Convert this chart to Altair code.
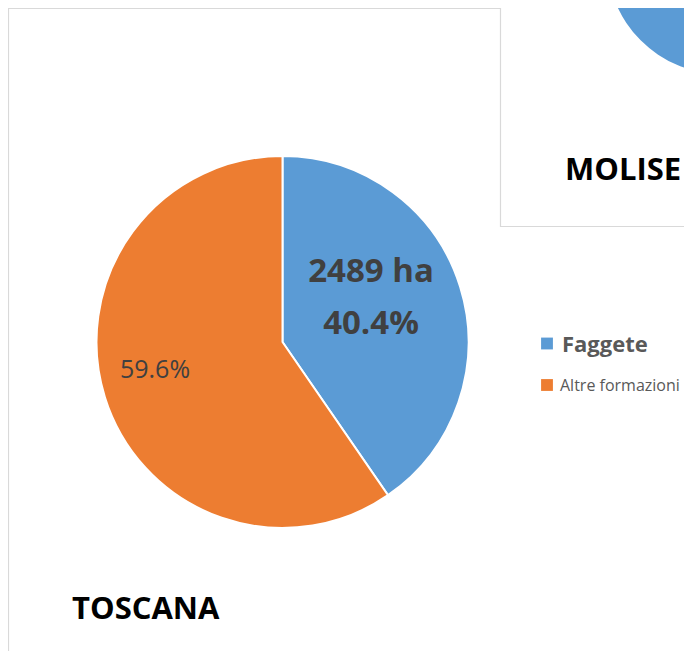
import altair as alt
import pandas as pd

categories = ["Faggete", "Altre formazioni"]
percentages = [40.4, 59.6]
hectares = [2489, None]
colors = ["#5B9BD5", "#ED7D31"]
region_main = "TOSCANA"
region_other = "MOLISE"
molise_values = [100.0]

df = pd.DataFrame({
    "category": categories,
    "value": percentages,
    "order": list(range(len(categories))),
    "pct_label": [f"{p:.1f}%" for p in percentages],
    "ha_label": [f"{h} ha" if h is not None else "" for h in hectares],
})
molise = pd.DataFrame({"category": ["Faggete"], "value": molise_values})
one = pd.DataFrame({"k": [0]})

color = alt.Color("category:N", scale=alt.Scale(domain=categories, range=colors), legend=None)
FONT = "Open Sans"

# boxes
box_tos = alt.Chart(one).mark_rect(fill="white", stroke="#d9d9d9", strokeWidth=1.2).encode(
    x=alt.value(0.5), x2=alt.value(900), y=alt.value(0.5), y2=alt.value(900))
box_mol = alt.Chart(one).mark_rect(fill="white", stroke="#d9d9d9", strokeWidth=1.2).encode(
    x=alt.value(492.5), x2=alt.value(900), y=alt.value(-20), y2=alt.value(218.5))
mol_pie = alt.Chart(molise).mark_arc(radius=115).encode(
    theta=alt.Theta("value:Q", stack=True), color=color,
    x=alt.value(714), y=alt.value(-49))
mol_text = alt.Chart(one).mark_text(align="left", baseline="middle", font=FONT,
                                    fontSize=31, fontWeight="bold", color="#000000").encode(
    x=alt.value(557), y=alt.value(163), text=alt.value(region_other))

# main pie
pie = alt.Chart(df).mark_arc(radius=186, stroke="white", strokeWidth=2).encode(
    theta=alt.Theta("value:Q", stack=True), color=color, order=alt.Order("order:Q"),
    x=alt.value(274.5), y=alt.value(334))

lab_ha = alt.Chart(df).transform_filter(alt.datum.category == categories[0]).mark_text(
    align="center", baseline="middle", font=FONT, fontSize=33, fontWeight="bold", color="#404040").encode(
    x=alt.value(363), y=alt.value(264), text="ha_label:N")
lab_p1 = alt.Chart(df).transform_filter(alt.datum.category == categories[0]).mark_text(
    align="center", baseline="middle", font=FONT, fontSize=33, fontWeight="bold", color="#404040").encode(
    x=alt.value(363), y=alt.value(316), text="pct_label:N")
lab_p2 = alt.Chart(df).transform_filter(alt.datum.category == categories[1]).mark_text(
    align="center", baseline="middle", font=FONT, fontSize=25, color="#404040").encode(
    x=alt.value(147), y=alt.value(362), text="pct_label:N")

# legend
leg_sq1 = alt.Chart(df).transform_filter(alt.datum.category == categories[0]).mark_square(size=140, opacity=1).encode(
    x=alt.value(539), y=alt.value(335.5), color=color)
leg_sq2 = alt.Chart(df).transform_filter(alt.datum.category == categories[1]).mark_square(size=140, opacity=1).encode(
    x=alt.value(539), y=alt.value(377), color=color)
leg_t1 = alt.Chart(df).transform_filter(alt.datum.category == categories[0]).mark_text(
    align="left", baseline="middle", font=FONT, fontSize=22, fontWeight="bold", color="#595959").encode(
    x=alt.value(554), y=alt.value(337), text="category:N")
leg_t2 = alt.Chart(df).transform_filter(alt.datum.category == categories[1]).mark_text(
    align="left", baseline="middle", font=FONT, fontSize=16, color="#595959").encode(
    x=alt.value(552), y=alt.value(378), text="category:N")

tos_text = alt.Chart(one).mark_text(align="left", baseline="middle", font=FONT,
                                    fontSize=31, fontWeight="bold", color="#000000").encode(
    x=alt.value(64), y=alt.value(602), text=alt.value(region_main))

chart = alt.layer(
    box_tos, box_mol, mol_pie, mol_text, pie, lab_ha, lab_p1, lab_p2,
    leg_sq1, leg_sq2, leg_t1, leg_t2, tos_text
).properties(
    width=676, height=643, padding=0, autosize=alt.AutoSizeParams(type="none")
).configure_view(stroke=None).configure(background="white")

chart.save("out.html", embed_options={"renderer": "svg", "actions": False})
